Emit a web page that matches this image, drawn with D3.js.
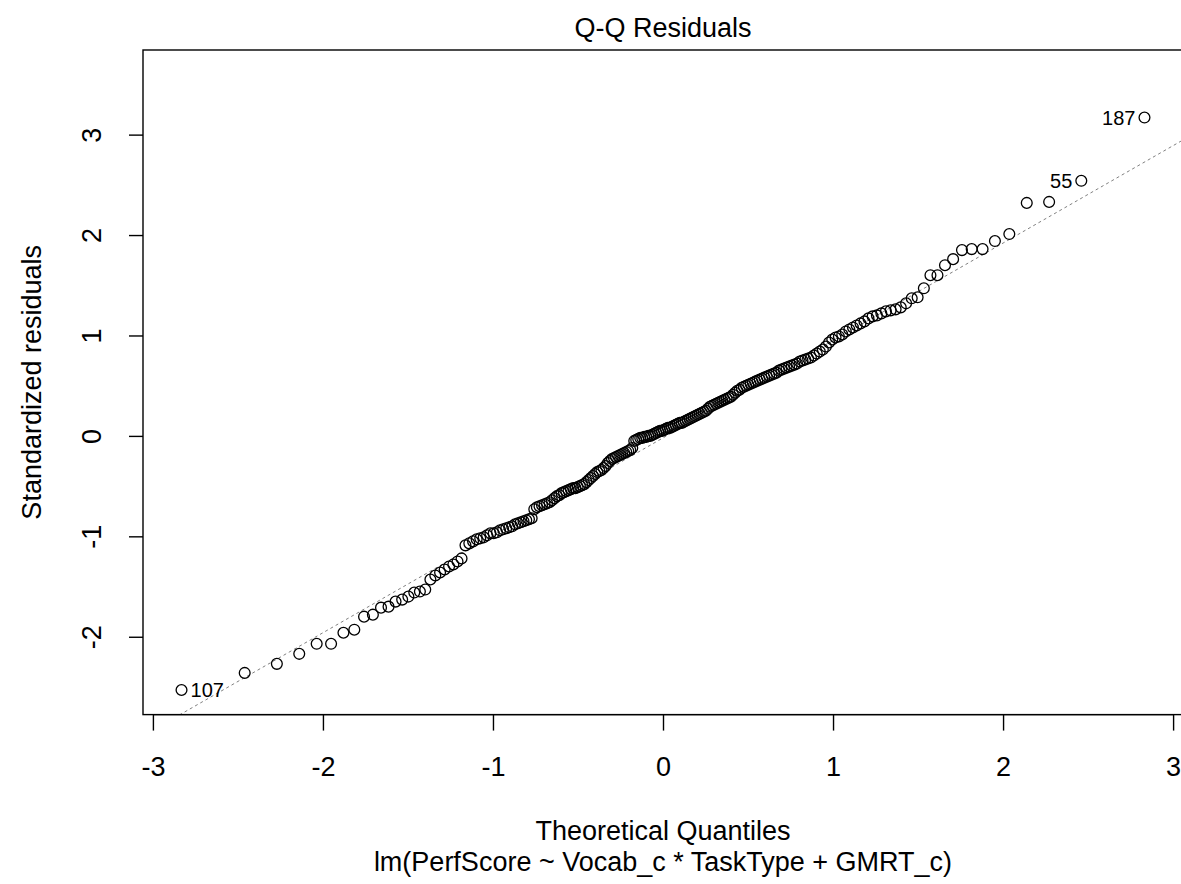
<!DOCTYPE html>
<html><head><meta charset="utf-8">
<script src="https://cdn.jsdelivr.net/npm/d3@7"></script>
<style>
body{margin:0;background:#fff}
svg text{font-family:"Liberation Sans",Arial,sans-serif;fill:#000}
</style>
</head><body>
<svg id="chart" width="1181" height="884"></svg>
<script>
// Sorted standardized residuals (n = 216)
const residuals = [
-2.53,-2.36,-2.27,-2.17,-2.07,-2.07,-1.96,-1.93,-1.80,-1.78,
-1.71,-1.70,-1.65,-1.63,-1.60,-1.56,-1.55,-1.53,-1.43,-1.39,
-1.36,-1.33,-1.30,-1.28,-1.25,-1.22,-1.09,-1.07,-1.05,-1.03,
-1.02,-1.01,-0.99,-0.97,-0.97,-0.96,-0.94,-0.93,-0.92,-0.91,
-0.90,-0.88,-0.87,-0.86,-0.85,-0.84,-0.83,-0.82,-0.73,-0.71,
-0.70,-0.69,-0.68,-0.67,-0.66,-0.64,-0.62,-0.60,-0.59,-0.57,
-0.56,-0.55,-0.54,-0.53,-0.52,-0.52,-0.51,-0.50,-0.49,-0.48,
-0.46,-0.44,-0.42,-0.40,-0.38,-0.36,-0.35,-0.34,-0.32,-0.30,
-0.27,-0.25,-0.23,-0.22,-0.21,-0.20,-0.19,-0.18,-0.17,-0.16,
-0.15,-0.14,-0.12,-0.05,-0.04,-0.03,-0.02,-0.02,-0.01,-0.01,
 0.00, 0.00, 0.01, 0.02, 0.03, 0.04, 0.05, 0.05, 0.06, 0.07,
 0.08, 0.08, 0.09, 0.10, 0.11, 0.12, 0.13, 0.13, 0.14, 0.15,
 0.16, 0.17, 0.18, 0.19, 0.20, 0.21, 0.22, 0.23, 0.24, 0.25,
 0.27, 0.29, 0.30, 0.31, 0.32, 0.33, 0.34, 0.35, 0.36, 0.37,
 0.38, 0.39, 0.41, 0.43, 0.45, 0.46, 0.48, 0.49, 0.50, 0.51,
 0.52, 0.53, 0.54, 0.55, 0.56, 0.57, 0.58, 0.59, 0.60, 0.61,
 0.62, 0.63, 0.65, 0.66, 0.67, 0.68, 0.69, 0.70, 0.71, 0.72,
 0.74, 0.75, 0.76, 0.77, 0.78, 0.80, 0.82, 0.84, 0.86, 0.89,
 0.93, 0.96, 0.98, 0.99, 1.01, 1.04, 1.06, 1.08, 1.10, 1.12,
 1.14, 1.17, 1.19, 1.20, 1.22, 1.24, 1.25, 1.26, 1.28, 1.32,
 1.37, 1.38, 1.47, 1.60, 1.60, 1.70, 1.76, 1.85, 1.86, 1.86,
 1.94, 2.01, 2.32, 2.33, 2.54, 3.17
];
const xTicks = [-3, -2, -1, 0, 1, 2, 3];
const yTicks = [-2, -1, 0, 1, 2, 3];
const labelRanks = [0, 214, 215];          // positions in sorted order
const labelTexts = ["107", "55", "187"];
const qqLineCoef = [-0.02, 0.97];          // intercept, slope
const titleText = "Q-Q Residuals";
const xTitle = "Theoretical Quantiles";
const subTitle = "lm(PerfScore ~ Vocab_c * TaskType + GMRT_c)";
const yTitle = "Standardized residuals";

// inverse normal CDF (Acklam)
function qnorm(p){
  const a=[-3.969683028665376e+01,2.209460984245205e+02,-2.759285104469687e+02,1.383577518672690e+02,-3.066479806614716e+01,2.506628277459239e+00];
  const b=[-5.447609879822406e+01,1.615858368580409e+02,-1.556989798598866e+02,6.680131188771972e+01,-1.328068155288572e+01];
  const c=[-7.784894002430293e-03,-3.223964580411365e-01,-2.400758277161838e+00,-2.549732539343734e+00,4.374664141464968e+00,2.938163982698783e+00];
  const d=[7.784695709041462e-03,3.224671290700398e-01,2.445134137142996e+00,3.754408661907416e+00];
  const pl=0.02425;
  let q,r;
  if(p<pl){q=Math.sqrt(-2*Math.log(p));return (((((c[0]*q+c[1])*q+c[2])*q+c[3])*q+c[4])*q+c[5])/((((d[0]*q+d[1])*q+d[2])*q+d[3])*q+1);}
  if(p>1-pl){q=Math.sqrt(-2*Math.log(1-p));return -(((((c[0]*q+c[1])*q+c[2])*q+c[3])*q+c[4])*q+c[5])/((((d[0]*q+d[1])*q+d[2])*q+d[3])*q+1);}
  q=p-0.5;r=q*q;
  return (((((a[0]*r+a[1])*r+a[2])*r+a[3])*r+a[4])*r+a[5])*q/(((((b[0]*r+b[1])*r+b[2])*r+b[3])*r+b[4])*r+1);
}
const n = residuals.length;
const pts = residuals.map((y,i)=>({x:qnorm((i+1-0.5)/n), y}));

const svg = d3.select("#chart");
const L=143, R=1183, T=50, B=714.6;
const FS = 27;
const xr = d3.extent(pts,d=>d.x);
const yr = d3.extent(pts,d=>d.y);
yr[1] = yr[1] + (yr[1]-yr[0])*0.075;
const xpad=(xr[1]-xr[0])*0.04, ypad=(yr[1]-yr[0])*0.04;
const x = d3.scaleLinear().domain([xr[0]-xpad, xr[1]+xpad]).range([L,R]);
const y = d3.scaleLinear().domain([yr[0]-ypad, yr[1]+ypad]).range([B,T]);

svg.append("clipPath").attr("id","clip").append("rect")
  .attr("x",L).attr("y",T).attr("width",R-L).attr("height",B-T);

// reference line
const xd = x.domain();
svg.append("line").attr("clip-path","url(#clip)")
  .attr("x1",x(xd[0])).attr("y1",y(qqLineCoef[0]+qqLineCoef[1]*xd[0]))
  .attr("x2",x(xd[1])).attr("y2",y(qqLineCoef[0]+qqLineCoef[1]*xd[1]))
  .attr("stroke","#808080").attr("stroke-width",1).attr("stroke-dasharray","3,3");

// points
svg.append("g").selectAll("circle").data(pts).join("circle")
  .attr("cx",d=>x(d.x)).attr("cy",d=>y(d.y)).attr("r",5.4)
  .attr("fill","none").attr("stroke","#000").attr("stroke-width",1.3);

// box
svg.append("rect").attr("x",L).attr("y",T).attr("width",R-L).attr("height",B-T)
  .attr("fill","none").attr("stroke","#000").attr("stroke-width",1.4);

// axes
const fmt = d => String(d);
const xAxis = svg.append("g").attr("transform",`translate(0,${B})`)
  .call(d3.axisBottom(x).tickValues(xTicks).tickSize(16).tickFormat(fmt));
xAxis.select(".domain").attr("d",`M${x(xTicks[0])},0H${x(xTicks[xTicks.length-1])}`).attr("stroke-width",1.4);
xAxis.selectAll("text").attr("font-size",FS).attr("y",52).attr("dy","0.35em");
xAxis.selectAll("line").attr("stroke-width",1.4);

const yAxis = svg.append("g").attr("transform",`translate(${L},0)`)
  .call(d3.axisLeft(y).tickValues(yTicks).tickSize(14).tickFormat(fmt));
yAxis.select(".domain").remove();
yAxis.selectAll("line").attr("stroke-width",1.4);
yAxis.selectAll("text").attr("font-size",FS)
  .attr("text-anchor","middle").attr("x",0).attr("dy","0.35em")
  .attr("transform","translate(-51,0) rotate(-90)");

// point labels
labelRanks.forEach((r,k)=>{
  const p=pts[r];
  const right = p.x < 0;
  svg.append("text").attr("x",x(p.x)+(right?9:-9)).attr("y",y(p.y)).attr("dy","0.35em")
    .attr("text-anchor",right?"start":"end").attr("font-size",20).text(labelTexts[k]);
});

// titles
svg.append("text").attr("x",(L+R)/2).attr("y",28).attr("dy","0.35em").attr("text-anchor","middle").attr("font-size",FS).text(titleText);
svg.append("text").attr("x",(L+R)/2).attr("y",831).attr("dy","0.35em").attr("text-anchor","middle").attr("font-size",FS).text(xTitle);
svg.append("text").attr("x",(L+R)/2).attr("y",862).attr("dy","0.35em").attr("text-anchor","middle").attr("font-size",FS).text(subTitle);
svg.append("text").attr("transform",`translate(32,${(T+B)/2}) rotate(-90)`).attr("dy","0.35em").attr("text-anchor","middle").attr("font-size",FS).text(yTitle);
</script>
</body></html>
